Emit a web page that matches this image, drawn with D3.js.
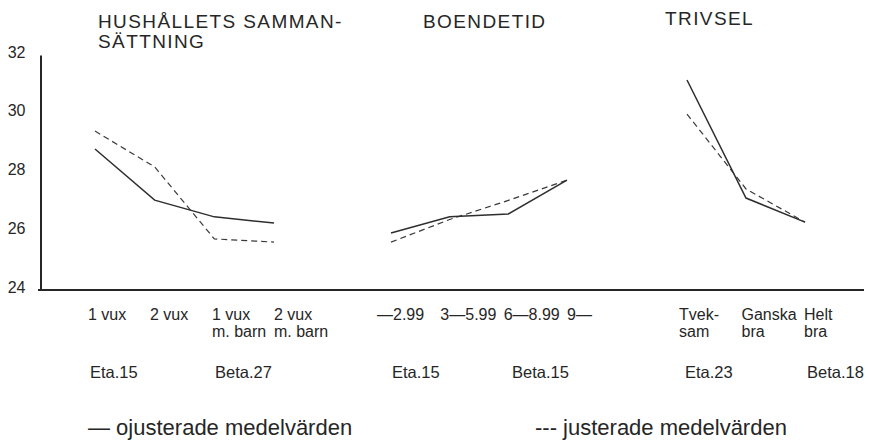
<!DOCTYPE html>
<html>
<head>
<meta charset="utf-8">
<script src="https://cdn.jsdelivr.net/npm/d3@7"></script>
<style>
  html, body { margin: 0; padding: 0; background: #fff; }
  svg text { font-family: "Liberation Sans", Arial, Helvetica, sans-serif; fill: #262626; }
  .axis path { stroke: #262626; stroke-width: 2; }
  .axis .tick line { display: none; }
  .unadj { fill: none; stroke: #2e2e2e; stroke-width: 1.5; }
  .adj { fill: none; stroke: #3a3a3a; stroke-width: 1.2; stroke-dasharray: 6 4; }
</style>
</head>
<body>
<div id="chart"></div>
<script>
// y axis
var yTicks = [24, 26, 28, 30, 32];

// hushållets sammansättning
var hushTitle = ['HUSHÅLLETS SAMMAN-', 'SÄTTNING'];
var hushCategories = [['1 vux'], ['2 vux'], ['1 vux', 'm. barn'], ['2 vux', 'm. barn']];
var hushUnadjusted = [28.80, 27.06, 26.49, 26.28];
var hushAdjusted = [29.41, 28.19, 25.74, 25.63];
var hushStats = ['Eta.15', 'Beta.27'];

// boendetid
var boTitle = ['BOENDETID'];
var boCategories = [['—2.99'], ['3—5.99'], ['6—8.99'], ['9—']];
var boUnadjusted = [25.94, 26.49, 26.59, 27.74];
var boAdjusted = [25.63, 26.40, 27.05, 27.74];
var boStats = ['Eta.15', 'Beta.15'];

// trivsel
var trTitle = ['TRIVSEL'];
var trCategories = [['Tvek-', 'sam'], ['Ganska', 'bra'], ['Helt', 'bra']];
var trUnadjusted = [31.15, 27.13, 26.31];
var trAdjusted = [29.99, 27.44, 26.31];
var trStats = ['Eta.23', 'Beta.18'];

var legendLabels = ['— ojusterade medelvärden', '--- justerade medelvärden'];

var width = 869, height = 440;

var svg = d3.select('#chart').append('svg')
  .attr('width', width)
  .attr('height', height);

var y = d3.scaleLinear().domain([24, 32]).range([290, 55]);

// y axis: line + labels, no ticks
var yAxis = svg.append('g')
  .attr('class', 'axis')
  .attr('transform', 'translate(40.5,0)')
  .call(d3.axisLeft(y).tickValues(yTicks).tickSizeInner(0).tickSizeOuter(0).tickPadding(15));
yAxis.selectAll('text')
  .attr('transform', 'translate(0,-3)')
  .style('font-size', '16px');

// x baseline
svg.append('line')
  .attr('x1', 38).attr('x2', 864)
  .attr('y1', y(24)).attr('y2', y(24))
  .attr('stroke', '#262626')
  .attr('stroke-width', 2);

var panels = [
  { title: hushTitle, titleX: 98, titleY: 28, cats: hushCategories, unadj: hushUnadjusted, adj: hushAdjusted,
    stats: hushStats, range: [95, 274], labelRange: [88, 274], statX: [90, 215] },
  { title: boTitle, titleX: 423, titleY: 28, cats: boCategories, unadj: boUnadjusted, adj: boAdjusted,
    stats: boStats, range: [391, 567], labelRange: [377, 567], statX: [392, 512] },
  { title: trTitle, titleX: 665, titleY: 25, cats: trCategories, unadj: trUnadjusted, adj: trAdjusted,
    stats: trStats, range: [687, 805], labelRange: [679, 804], statX: [685, 807] }
];

panels.forEach(function(p) {
  var keys = p.cats.map(function(c) { return c.join(' '); });
  var x = d3.scalePoint().domain(keys).range(p.range);
  var xl = d3.scalePoint().domain(keys).range(p.labelRange);
  var g = svg.append('g');

  var line = d3.line()
    .x(function(d, i) { return x(keys[i]); })
    .y(function(d) { return y(d); });

  g.append('path').datum(p.adj).attr('class', 'adj').attr('d', line);
  g.append('path').datum(p.unadj).attr('class', 'unadj').attr('d', line);

  // title
  var t = g.append('text')
    .attr('x', p.titleX)
    .attr('y', p.titleY)
    .style('font-size', '19px')
    .style('letter-spacing', '1.4px');
  t.selectAll('tspan').data(p.title)
    .enter().append('tspan')
    .attr('x', p.titleX)
    .attr('dy', function(d, i) { return i === 0 ? 0 : 20; })
    .text(function(d) { return d; });

  // category labels
  var lab = g.selectAll('text.cat').data(p.cats)
    .enter().append('text')
    .attr('class', 'cat')
    .attr('x', function(d, i) { return xl(keys[i]); })
    .attr('y', 320)
    .style('font-size', '16px');
  lab.selectAll('tspan').data(function(d) { return d; })
    .enter().append('tspan')
    .attr('x', function() { return d3.select(this.parentNode).attr('x'); })
    .attr('dy', function(d, i) { return i === 0 ? 0 : 17; })
    .text(function(d) { return d; });

  // eta / beta
  g.selectAll('text.stat').data(p.stats)
    .enter().append('text')
    .attr('class', 'stat')
    .attr('x', function(d, i) { return p.statX[i]; })
    .attr('y', 378)
    .style('font-size', '16.5px')
    .text(function(d) { return d; });
});

// legend
svg.selectAll('text.legend').data(legendLabels)
  .enter().append('text')
  .attr('class', 'legend')
  .attr('x', function(d, i) { return i === 0 ? 88 : 535; })
  .attr('y', 435)
  .style('font-size', '22px')
  .text(function(d) { return d; });
</script>
</body>
</html>
